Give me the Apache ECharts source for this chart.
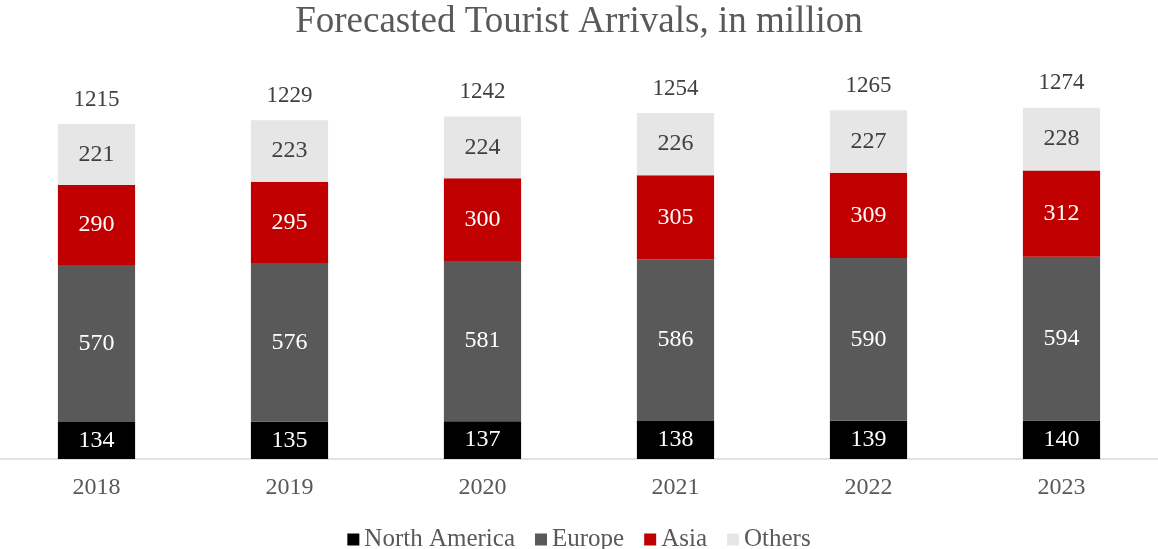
<!DOCTYPE html>
<html>
<head>
<meta charset="utf-8">
<script src="https://cdn.jsdelivr.net/npm/echarts@6/dist/echarts.min.js"></script>
<style>
html,body{margin:0;padding:0;background:#fff;}
#chart{width:1158px;height:549px;}
</style>
</head>
<body>
<div id="chart"></div>
<script>
const years = ['2018', '2019', '2020', '2021', '2022', '2023'];
const northAmerica = [134, 135, 137, 138, 139, 140];
const europe = [570, 576, 581, 586, 590, 594];
const asia = [290, 295, 300, 305, 309, 312];
const others = [221, 223, 224, 226, 227, 228];
const totals = [1215, 1229, 1242, 1254, 1265, 1274];

const FONT = '"Liberation Serif", "Times New Roman", serif';
const TEXT = '#595959';

function segment(name, data, color, labelColor) {
  return {
    name: name,
    type: 'bar',
    stack: 'all',
    data: data,
    barWidth: '40%',
    itemStyle: { color: color },
    label: {
      show: true,
      position: 'inside',
      color: labelColor,
      fontFamily: FONT,
      fontSize: 24
    }
  };
}

const chart = echarts.init(document.getElementById('chart'));
chart.setOption({
  animation: false,
  backgroundColor: '#ffffff',
  title: {
    text: 'Forecasted Tourist Arrivals, in million',
    left: 'center',
    top: -1,
    textStyle: { fontFamily: FONT, fontSize: 37, fontWeight: 'normal', color: TEXT }
  },
  legend: {
    data: ['North America', 'Europe', 'Asia', 'Others'],
    top: 522,
    left: 'center',
    icon: 'rect',
    itemWidth: 12,
    itemHeight: 12,
    itemGap: 20,
    textStyle: { fontFamily: FONT, fontSize: 25, color: TEXT }
  },
  grid: { left: 0, right: 0, top: 73, bottom: 90, containLabel: false },
  xAxis: {
    type: 'category',
    data: years,
    axisLine: { lineStyle: { color: '#d9d9d9', width: 1.5 } },
    axisTick: { show: false },
    axisLabel: { fontFamily: FONT, fontSize: 24, color: TEXT, margin: 17 }
  },
  yAxis: {
    type: 'value',
    min: 0,
    max: 1400,
    show: false,
    splitLine: { show: false }
  },
  series: [
    segment('North America', northAmerica, '#000000', '#ffffff'),
    segment('Europe', europe, '#595959', '#ffffff'),
    segment('Asia', asia, '#c00000', '#ffffff'),
    segment('Others', others, '#e6e6e6', '#404040'),
    {
      name: 'Total',
      type: 'bar',
      stack: 'all',
      data: years.map(() => 0),
      barWidth: '40%',
      itemStyle: { color: 'transparent' },
      label: {
        show: true,
        position: 'top',
        distance: 13,
        color: '#404040',
        fontFamily: FONT,
        fontSize: 23,
        formatter: p => String(totals[p.dataIndex])
      }
    }
  ]
});
</script>
</body>
</html>
